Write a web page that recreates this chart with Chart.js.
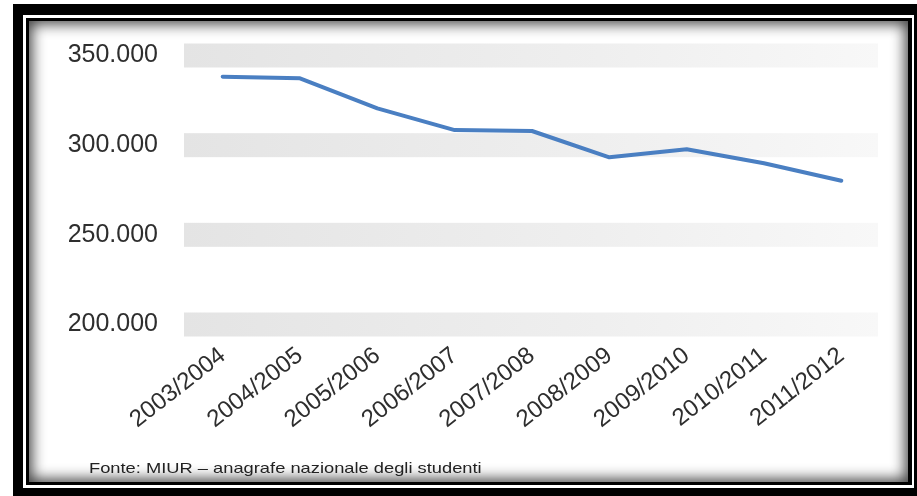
<!DOCTYPE html>
<html>
<head>
<meta charset="utf-8">
<script src="https://cdn.jsdelivr.net/npm/chart.js@4/dist/chart.umd.min.js"></script>
<style>
  html, body { margin: 0; padding: 0; background: #fff; width: 917px; height: 496px; overflow: hidden; }
  .abs { position: absolute; }
  #outer { left: 13px; top: 4px; width: 904px; height: 492px; background: #000; }
  #white { left: 23px; top: 15px; width: 891px; height: 473px; background: #fff; }
  #inner { left: 26px; top: 18px; width: 886px; height: 467px; background: #000; }
  #panel { left: 29px; top: 21px; width: 879px; height: 461px; background: #fff;
           box-shadow: inset 0 0 14px 3px rgba(0,0,0,0.75); }
  #chartWrap { left: 0; top: 0; width: 917px; height: 496px; }
  #footer { left: 89px; top: 460px; font-family: "Liberation Sans", Arial, sans-serif; font-size: 15px;
            line-height: 15px; color: #222; white-space: nowrap; transform: scaleX(1.22); transform-origin: 0 0; }
</style>
</head>
<body>
<div class="abs" id="outer"></div>
<div class="abs" id="white"></div>
<div class="abs" id="inner"></div>
<div class="abs" id="panel"></div>
<div class="abs" id="chartWrap"><canvas id="c" width="917" height="496"></canvas></div>
<div class="abs" id="footer">Fonte: MIUR – anagrafe nazionale degli studenti</div>
<script>
const categories = ['2003/2004', '2004/2005', '2005/2006', '2006/2007', '2007/2008', '2008/2009', '2009/2010', '2010/2011', '2011/2012'];
const students = [338200, 337300, 320500, 308400, 307900, 293200, 297700, 289900, 280200];
const yMin = 200000;
const yMax = 350000;
const yStep = 50000;

function fmt(v) {
  return String(v).replace(/\B(?=(\d{3})+(?!\d))/g, '.');
}

const bandPlugin = {
  id: 'bands',
  beforeDatasetsDraw(chart) {
    const ctx = chart.ctx;
    const area = chart.chartArea;
    const ys = chart.scales.y;
    const grad = ctx.createLinearGradient(area.left, 0, area.right, 0);
    grad.addColorStop(0, '#e4e4e4');
    grad.addColorStop(0.6, '#efefef');
    grad.addColorStop(1, '#f8f8f8');
    ctx.save();
    ctx.fillStyle = grad;
    ys.ticks.forEach(t => {
      const y = ys.getPixelForValue(t.value);
      ctx.fillRect(area.left, y - 12, area.right - area.left - 2, 24);
    });
    ctx.restore();
  }
};

new Chart(document.getElementById('c'), {
  type: 'line',
  data: {
    labels: categories,
    datasets: [{
      data: students,
      borderColor: '#4a7fc2',
      borderWidth: 4,
      pointRadius: 0,
      tension: 0,
      borderCapStyle: 'round',
      borderJoinStyle: 'round',
      fill: false
    }]
  },
  options: {
    responsive: false,
    animation: false,
    devicePixelRatio: 1,
    layout: { padding: { left: 20, right: 37, top: 55.5, bottom: 51.5 } },
    plugins: { legend: { display: false }, tooltip: { enabled: false } },
    scales: {
      x: {
        offset: true,
        grid: { display: false, drawTicks: false },
        border: { display: false },
        ticks: {
          autoSkip: false,
          maxRotation: 38,
          minRotation: 38,
          padding: 17,
          color: '#2e2e2e',
          font: { family: '"Liberation Sans", Arial, sans-serif', size: 24 }
        },
        afterFit(scale) { scale.height = 120; }
      },
      y: {
        min: yMin,
        max: yMax,
        grid: { display: false, drawTicks: false },
        border: { display: false },
        ticks: {
          stepSize: yStep,
          padding: 26,
          color: '#2e2e2e',
          font: { family: '"Liberation Sans", Arial, sans-serif', size: 25 },
          callback: (v) => fmt(v)
        },
        afterFit(scale) { scale.width = 164; }
      }
    }
  },
  plugins: [bandPlugin]
});
</script>
</body>
</html>
